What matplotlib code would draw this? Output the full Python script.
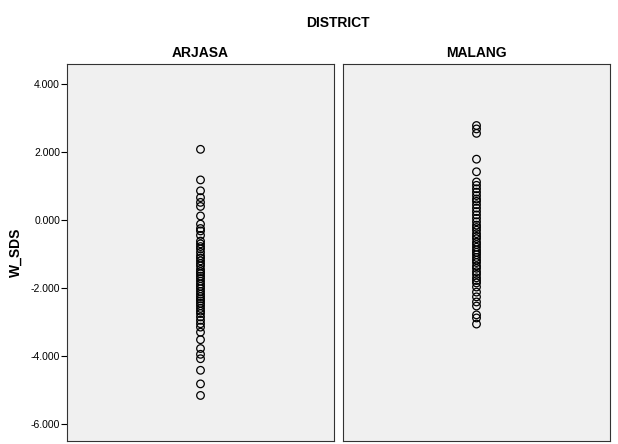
import numpy as np
import matplotlib.pyplot as plt
from matplotlib.ticker import FormatStrFormatter

plt.rcParams['font.family'] = ['Liberation Sans', 'DejaVu Sans']

districts = ['ARJASA', 'MALANG']

arjasa_wsds = [2.08, 1.18, 0.86, 0.66, 0.52, 0.40, 0.12, -0.12, -0.25, -0.32,
               -0.45, -0.62, -0.70, -0.78, -0.85, -0.95, -1.05, -1.12, -1.20,
               -1.28, -1.35, -1.45, -1.52, -1.58, -1.65, -1.72, -1.80, -1.88,
               -1.95, -2.02, -2.10, -2.18, -2.25, -2.32, -2.38, -2.45, -2.52,
               -2.60, -2.68, -2.75, -2.85, -2.95, -3.05, -3.15, -3.30, -3.52,
               -3.78, -3.95, -4.08, -4.42, -4.82, -5.16]

malang_wsds = [2.78, 2.68, 2.55, 1.79, 1.42, 1.12, 1.02, 0.92, 0.82, 0.72,
               0.62, 0.55, 0.45, 0.35, 0.25, 0.15, 0.05, -0.05, -0.15, -0.22,
               -0.30, -0.40, -0.48, -0.55, -0.65, -0.72, -0.80, -0.88, -0.95,
               -1.02, -1.10, -1.18, -1.25, -1.35, -1.42, -1.52, -1.60, -1.70,
               -1.78, -1.85, -1.97, -2.12, -2.26, -2.41, -2.53, -2.79, -2.88,
               -3.06]

yticks = [4, 2, 0, -2, -4, -6]

fig = plt.figure(figsize=(6.18, 4.44), dpi=100)
fig.patch.set_facecolor('white')

ax_left = fig.add_axes([67 / 618, 3 / 444, 267 / 618, 377 / 444])
ax_right = fig.add_axes([343 / 618, 3 / 444, 267 / 618, 377 / 444], sharey=ax_left)

for ax, name, vals in zip([ax_left, ax_right], districts, [arjasa_wsds, malang_wsds]):
    ax.set_facecolor('#f0f0f0')
    ax.scatter(np.zeros(len(vals)), vals, s=30, facecolors='none',
               edgecolors='black', linewidths=0.9, zorder=3)
    ax.set_xlim(-1, 1)
    ax.set_xticks([])
    ax.set_title(name, fontsize=10, fontweight='bold', pad=5)
    for sp in ax.spines.values():
        sp.set_linewidth(0.8)
        sp.set_color('#333333')

ax_left.set_ylim(-6.5, 4.59)
ax_left.set_yticks(yticks)
ax_left.yaxis.set_major_formatter(FormatStrFormatter('%.3f'))
ax_left.tick_params(axis='y', labelsize=7.5, length=4, width=0.8, pad=1)
ax_left.set_ylabel('W_SDS', fontsize=10, fontweight='bold', labelpad=6)
ax_right.tick_params(axis='y', left=False, labelleft=False)

fig.text(338 / 618, 1 - 23 / 444, 'DISTRICT', ha='center', va='center',
         fontsize=10, fontweight='bold')

fig.savefig('out.png', dpi=100)
